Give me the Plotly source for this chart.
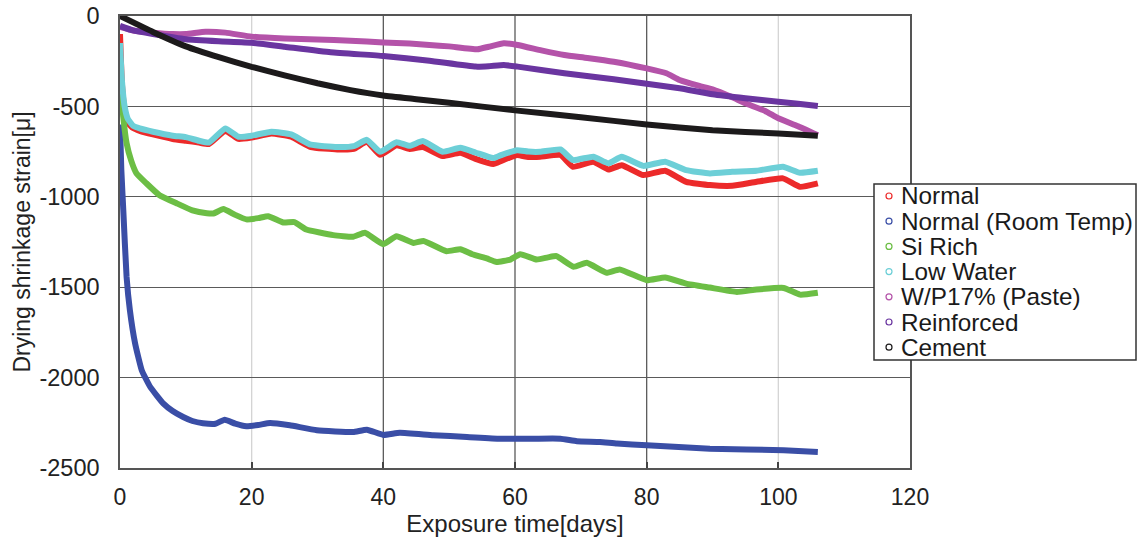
import plotly.graph_objects as go

# ---- measured drying shrinkage strain (μ) vs exposure time (days) ----
normal_days = [0, 0.3, 0.7, 1.2, 2, 3, 5, 8, 10, 12, 13.5, 16, 18, 20, 23, 26, 29, 33, 35.5, 37.5,
               39.5, 42, 44, 46, 49, 51.7, 54, 56.7, 58, 60.3, 62, 63.8, 66.9, 68.8, 71.9, 74.2,
               76.2, 79.5, 82.8, 86, 89.6, 93, 96.7, 100.7, 103.3, 106]
normal_strain = [-100, -380, -520, -590, -620, -635, -655, -680, -690, -700, -708, -635, -680, -672,
                 -650, -668, -725, -738, -735, -695, -768, -715, -735, -725, -775, -757, -790, -819,
                 -800, -769, -780, -778, -769, -834, -806, -849, -825, -880, -856, -917, -935, -939,
                 -917, -898, -945, -926]
low_water_strain = [-150, -360, -500, -570, -608, -622, -640, -662, -670, -690, -700, -622, -668,
                    -662, -640, -655, -712, -725, -720, -685, -751, -698, -718, -692, -751, -729,
                    -755, -786, -768, -742, -750, -751, -738, -797, -778, -815, -779, -829, -806,
                    -852, -871, -862, -856, -834, -867, -856]

room_days = [0, 0.2, 0.5, 1, 1.5, 2.3, 3.3, 4.6, 6.6, 8, 9.6, 11, 12.6, 14.5, 15.9, 17.5, 19.2, 21,
             22.8, 25.8, 29.9, 35.4, 37.5, 40, 42.5, 47.6, 52.7, 57.7, 62.8, 66.9, 69.4, 72.9, 75.5,
             80, 89.6, 100.8, 106]
room_strain = [-600, -850, -1074, -1443, -1627, -1812, -1959, -2052, -2144, -2185, -2218, -2240,
               -2252, -2255, -2233, -2255, -2269, -2262, -2251, -2264, -2291, -2301, -2288, -2317,
               -2305, -2319, -2328, -2338, -2338, -2338, -2352, -2356, -2365, -2374, -2393, -2402,
               -2411]

si_days = [0, 0.5, 1, 1.7, 2.5, 4, 6, 8.6, 11, 13.2, 14.2, 15.7, 17.5, 19.2, 21, 22.5, 24.8, 26.5,
           28.3, 32.4, 35.4, 37.2, 40, 42, 44.6, 46.1, 49.6, 51.7, 53.5, 55.7, 57.2, 59.3, 60.8,
           63.3, 65, 66.3, 68.9, 70.9, 73.9, 75.9, 80, 82.8, 86, 89.6, 93.7, 96.7, 100.8, 103.3, 106]
si_strain = [-350, -560, -703, -800, -870, -925, -991, -1036, -1075, -1091, -1092, -1068, -1100,
             -1125, -1118, -1107, -1142, -1140, -1181, -1212, -1221, -1199, -1262, -1218, -1255,
             -1244, -1301, -1290, -1318, -1341, -1360, -1347, -1318, -1347, -1335, -1328, -1387,
             -1365, -1420, -1402, -1461, -1446, -1480, -1502, -1526, -1513, -1504, -1541, -1531]

paste_days = [0, 2, 5, 8, 10, 13, 16, 20, 25, 30, 35, 40, 44, 47, 50, 54.3, 56, 58.3, 60.4, 64,
              67.5, 71, 75, 80, 83, 85, 88, 90, 93, 95, 98, 100, 103, 106]
paste_strain = [-60, -80, -92, -100, -100, -87, -92, -114, -125, -130, -137, -146, -152, -160, -168,
                -184, -170, -151, -160, -190, -216, -232, -253, -290, -317, -354, -387, -406, -450,
                -483, -525, -566, -610, -660]

reinf_days = [0, 2, 5, 10, 15, 20, 25, 32, 40, 47, 54, 56, 58.3, 60.4, 67.5, 75, 80, 85, 90, 95,
              100, 103, 106]
reinf_strain = [-55, -80, -100, -129, -140, -148, -170, -201, -221, -247, -280, -278, -271, -280,
                -317, -350, -375, -400, -433, -455, -474, -485, -498]

cement_days = [0, 5, 10, 15, 20, 25, 30, 35, 40, 45, 50, 60, 70, 80, 90, 100, 106]
cement_strain = [0, -88, -168, -228, -281, -328, -372, -410, -440, -460, -480, -522, -560, -600,
                 -632, -650, -662]

series_names = ["Normal", "Normal (Room Temp)", "Si Rich", "Low Water",
                "W/P17% (Paste)", "Reinforced", "Cement"]
series_colors = ["#ec2a2a", "#3a4ea6", "#6cbe45", "#6dcfd7", "#b453a9", "#6a35a0", "#1c1a1b"]
series_x = [normal_days, room_days, si_days, normal_days, paste_days, reinf_days, cement_days]
series_y = [normal_strain, room_strain, si_strain, low_water_strain, paste_strain, reinf_strain,
            cement_strain]

x_ticks = [0, 20, 40, 60, 80, 100, 120]
y_ticks = [0, -500, -1000, -1500, -2000, -2500]
dark_vgrid = [40, 60, 80]
light_vgrid = [20, 100]

FONT = "Liberation Sans, Arial, sans-serif"
W, H = 1137, 547
M_L, M_R, M_T, M_B = 120, 227, 16, 79


def px_x(px):
    return (px - M_L) / (W - M_L - M_R)


def px_y(py):
    return (H - M_B - py) / (H - M_T - M_B)


fig = go.Figure()
for name, color, xs, ys in zip(series_names, series_colors, series_x, series_y):
    fig.add_trace(go.Scatter(
        x=xs, y=ys, mode="lines", name=name, showlegend=False,
        line=dict(color=color, width=6, shape="spline", smoothing=0.4),
    ))

shapes = []
# vertical grid lines (two shades)
for v in light_vgrid:
    shapes.append(dict(type="line", xref="x", yref="paper", x0=v, x1=v, y0=0, y1=1,
                       line=dict(color="#d4d4d4", width=1.3), layer="below"))
for v in dark_vgrid:
    shapes.append(dict(type="line", xref="x", yref="paper", x0=v, x1=v, y0=0, y1=1,
                       line=dict(color="#5a5a5a", width=1.3), layer="below"))

# legend box drawn by hand
lg_left, lg_right, lg_top, lg_bottom = 874, 1136, 184, 360
shapes.append(dict(type="rect", xref="paper", yref="paper",
                   x0=px_x(lg_left), x1=px_x(lg_right), y0=px_y(lg_bottom), y1=px_y(lg_top),
                   fillcolor="white", line=dict(color="#333333", width=1.5), layer="above"))

annotations = []
row0, row_step = 196, 25.2
for i, (name, color) in enumerate(zip(series_names, series_colors)):
    cy = row0 + i * row_step
    shapes.append(dict(type="circle", xref="paper", yref="paper",
                       xsizemode="pixel", ysizemode="pixel",
                       xanchor=px_x(889), yanchor=px_y(cy),
                       x0=-3, x1=3, y0=-3, y1=3,
                       line=dict(color=color, width=1.2), fillcolor="white", layer="above"))
    annotations.append(dict(text=name, xref="paper", yref="paper", x=px_x(899), y=px_y(cy),
                            xanchor="left", yanchor="middle", showarrow=False,
                            font=dict(family=FONT, size=24.3, color="#1a1a1a")))

fig.update_layout(
    width=W, height=H,
    margin=dict(l=M_L, r=M_R, t=M_T, b=M_B, autoexpand=False),
    paper_bgcolor="white", plot_bgcolor="white",
    font=dict(family=FONT, size=22, color="#222222"),
    showlegend=False,
    shapes=shapes,
    annotations=annotations,
    xaxis=dict(
        range=[0, 120], tickvals=x_ticks, ticktext=[str(v) for v in x_ticks],
        showgrid=False, zeroline=False, automargin=False,
        showline=True, linecolor="#555555", linewidth=1.5, mirror=True,
        ticks="inside", ticklen=6, tickcolor="#444444", tickwidth=1.5,
        ticklabelstandoff=8,
        tickfont=dict(family=FONT, size=23, color="#222222"),
        title=dict(text="Exposure time[days]", font=dict(family=FONT, size=24, color="#222222"),
                   standoff=4),
    ),
    yaxis=dict(
        range=[-2500, 0], tickvals=y_ticks, ticktext=[str(v) for v in y_ticks],
        showgrid=True, gridcolor="#5a5a5a", gridwidth=1.3, zeroline=False, automargin=False,
        showline=True, linecolor="#555555", linewidth=1.5, mirror=True,
        ticks="", ticklabelstandoff=14,
        tickfont=dict(family=FONT, size=23.5, color="#222222"),
        title=dict(text="Drying shrinkage strain[μ]",
                   font=dict(family=FONT, size=23, color="#222222"), standoff=2),
    ),
)

fig.write_html("out.html")
